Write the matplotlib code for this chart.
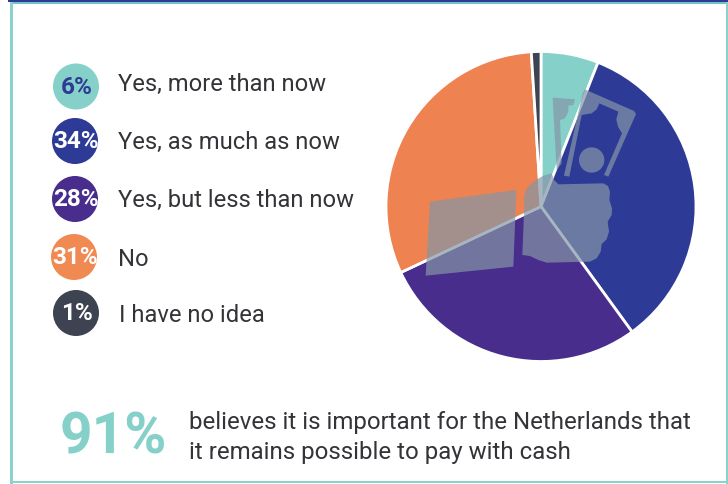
import matplotlib
matplotlib.use("Agg")
import matplotlib.pyplot as plt
from matplotlib.patches import Circle, Polygon, Rectangle

labels = ["Yes, more than now", "Yes, as much as now", "Yes, but less than now", "No", "I have no idea"]
values = [6, 34, 28, 31, 1]
colors = ["#85D0C8", "#2E3B96", "#482D8C", "#EE8250", "#3D4350"]
legend_colors = ["#85D0C8", "#2E3B96", "#482D8C", "#F08A52", "#3D4350"]
pct_colors = ["#2E3B96", "white", "white", "white", "white"]
headline = "91%"
note = ["believes it is important for the Netherlands that", "it remains possible to pay with cash"]

W, H = 728, 484
FONT = "Roboto"
fig = plt.figure(figsize=(W / 100, H / 100), dpi=100, facecolor="white")
bg = fig.add_axes([0, 0, 1, 1])
bg.set_xlim(0, W); bg.set_ylim(H, 0); bg.axis("off")

# frame
bg.add_patch(Rectangle((8, 0), 720, 2, fc="#2E3B96", ec="none"))
bg.add_patch(Rectangle((10, 2), 718, 2, fc="#6FC4C4", ec="none"))
bg.add_patch(Rectangle((10, 2), 2.5, 482, fc="#8AD3CA", ec="none"))
bg.add_patch(Rectangle((10, 481), 718, 2, fc="#8AD3CA", ec="none"))
bg.add_patch(Rectangle((725.5, 2), 2.5, 482, fc="#8AD3CA", ec="none"))

# legend
cx = [76, 75, 75, 74, 76]
cy = [86.5, 141, 199, 257, 313]
tx = [118, 118, 118, 118, 119]
ty = [84, 142, 200, 260, 316]
for x, y, t, yy, lab, v, c, pc in zip(cx, cy, tx, ty, labels, values, legend_colors, pct_colors):
    circ = Circle((x, y), 23, fc=c, ec="none")
    bg.add_patch(circ)
    txt = bg.text(x + 1, y + 0.5, f"{v}%", color=pc, fontsize=17.5, fontweight="bold", family=FONT,
                  ha="center", va="center")
    txt.set_clip_path(circ)
    bg.text(t, yy, lab, color="#333338", fontsize=17.1, family=FONT, ha="left", va="center")

# closing statement
bg.text(60, 438, headline, color="#85D0C8", fontsize=41, fontweight="bold", family=FONT, ha="left", va="center")
bg.text(189, 423, note[0], color="#333338", fontsize=17.3, family=FONT, ha="left", va="center")
bg.text(189, 452, note[1], color="#333338", fontsize=17.3, family=FONT, ha="left", va="center")

# pie
R = 155
pie_ax = fig.add_axes([(541 - R) / W, 1 - (206.5 + R) / H, 2 * R / W, 2 * R / H])
pie_ax.pie(values, colors=colors, startangle=90, counterclock=False, radius=1,
           wedgeprops=dict(edgecolor="white", linewidth=2))
pie_ax.set_xlim(-1, 1); pie_ax.set_ylim(-1, 1)

# icon overlay, outline in pixels
ov = fig.add_axes([0, 0, 1, 1], facecolor="none")
ov.set_xlim(0, W); ov.set_ylim(H, 0); ov.axis("off")
def z(pts):
    return [(px / 3 + 380, py / 3 + 40) for px, py in pts]
def z5(pts):
    return [(px / 3 + 540, py / 3 + 80) for px, py in pts]
icon = dict(fc="#8496A8", ec="none", alpha=0.7)
sleeve = [(150, 485), (408, 450), (409, 455), (400, 680), (137, 707)]
hand = [(432, 470), (440, 445), (460, 425), (490, 407), (515, 400), (522, 420), (535, 433), (670, 430), (684, 438),
        (690, 455), (688, 480), (696, 505), (695, 525), (683, 545), (687, 575), (680, 598), (665, 612),
        (662, 635), (650, 655), (630, 665), (500, 668), (475, 660), (450, 648), (427, 645), (432, 520)]
bill_frame = [(128, 40), (135, 28), (150, 35), (282, 93), (288, 102), (205, 290), (192, 285), (246, 160),
              (234, 140), (229, 118), (235, 95), (178, 70), (170, 88), (155, 100), (125, 105), (88, 290), (72, 287)]
bill_back = [(518, 175), (522, 173), (585, 178), (580, 195), (565, 197), (565, 215), (555, 235), (540, 240),
             (545, 370), (530, 390), (525, 300)]
ov.add_patch(Polygon(z(sleeve), closed=True, **icon))
ov.add_patch(Polygon(z(hand), closed=True, **icon))
ov.add_patch(Polygon(z5(bill_frame), closed=True, **icon))
ov.add_patch(Polygon(z(bill_back), closed=True, **icon))
ov.add_patch(Circle(z([(635, 360)])[0], 38 / 3, **icon))

fig.savefig("out.png", dpi=100)
